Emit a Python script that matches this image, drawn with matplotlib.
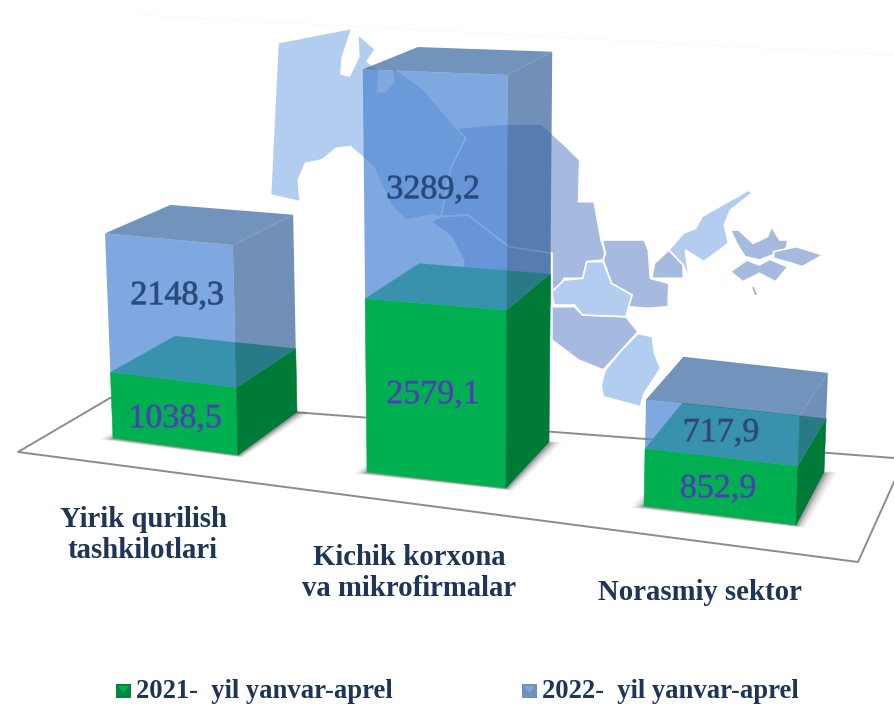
import matplotlib
matplotlib.use("Agg")
import matplotlib.pyplot as plt
import matplotlib.patheffects as pe
from matplotlib.patches import Polygon, Rectangle

plt.rcParams['font.family'] = ['Liberation Serif', 'DejaVu Serif']

# data
categories = ["Yirik qurilish\ntashkilotlari", "Kichik korxona\nva mikrofirmalar", "Norasmiy sektor"]
values_2021 = [1038.5, 2579.1, 852.9]
values_2022 = [2148.3, 3289.2, 717.9]
legend_labels = ["2021-  yil yanvar-aprel", "2022-  yil yanvar-aprel"]

# layout of the fake 3d scene, in image pixels
floors = [
    {"fl": (113, 438), "fr": (238, 455), "br": (297, 412), "bl": (177, 398)},
    {"fl": (367, 472), "fr": (506, 488), "br": (549, 442), "bl": (420, 427)},
    {"fl": (644, 506), "fr": (796, 525), "br": (824, 472), "bl": (681, 457)},
]
bar_scale = [0.0646, 0.0679, 0.0687]
back_shrink = [0.94, 0.945, 0.91]
cat_pos = [(143, 535), (409, 573), (700, 593)]
label_2021_pos = [(175, 419), (433, 395), (718, 489)]
label_2022_pos = [(177, 296), (433, 190), (721, 433)]


# value -> pixel, with a bit of perspective
def project(i, corner, val):
    x0, y0 = floors[i][corner]
    k = {"fl": 0.975, "fr": 1.0, "br": back_shrink[i], "bl": 0.92}[corner]
    s = bar_scale[i] * k / (1 - 6e-6 * val)
    return x0 + val * (x0 - 470) * 7e-6, y0 - val * s


# background map, traced in the coordinates of a zoomed crop (x and y scaled differently)
def map_xy(pts):
    return [(250 + x / 2.435, 20 + y / 3) for x, y in pts]


map_light = [
    [(68, 68), (248, 25), (224, 115), (222, 162), (242, 168), (265, 110), (262, 42), (305, 88), (285, 125),
     (315, 150), (310, 215), (330, 215), (350, 185), (345, 140), (420, 205), (500, 320), (525, 355),
     (490, 440), (465, 590), (445, 585), (380, 600), (345, 560), (300, 440), (245, 380), (210, 385),
     (175, 420), (135, 430), (118, 480), (122, 545), (50, 525)],
    [(735, 815), (765, 780), (810, 775), (820, 725), (860, 725), (880, 790), (930, 825), (915, 890),
     (810, 885), (790, 855), (740, 855)],
    [(945, 940), (980, 950), (985, 1000), (1000, 1045), (960, 1120), (950, 1160), (860, 1130), (855, 1095),
     (865, 1050), (905, 990)],
    [(1020, 690), (1055, 640), (1085, 625), (1100, 590), (1150, 555), (1215, 510), (1222, 520), (1170, 570),
     (1155, 615), (1165, 670), (1105, 725), (1060, 690), (1070, 780), (1055, 735)],
]
map_dark = [
    [(500, 325), (600, 313), (710, 312), (770, 380), (803, 420), (800, 545), (838, 545), (855, 660),
     (865, 700), (860, 720), (820, 725), (810, 775), (765, 775), (750, 810), (735, 810), (735, 700),
     (630, 680), (530, 585), (465, 590), (490, 440), (525, 355)],
    [(465, 590), (530, 585), (630, 680), (735, 700), (735, 860), (520, 830), (520, 720), (490, 650), (440, 605)],
    [(735, 860), (790, 860), (810, 885), (915, 890), (945, 935), (905, 990), (860, 1050), (800, 1020), (735, 960)],
    [(858, 660), (960, 660), (970, 690), (975, 775), (1020, 790), (1018, 860), (970, 865), (920, 860),
     (930, 825), (880, 790), (860, 720), (865, 700)],
    [(985, 730), (1020, 690), (1055, 735), (1055, 775), (978, 775)],
    [(1170, 630), (1190, 630), (1225, 670), (1260, 650), (1270, 620), (1290, 660), (1310, 660), (1305, 690),
     (1240, 720), (1205, 710), (1185, 670)],
    [(1275, 695), (1330, 680), (1395, 705), (1345, 740), (1320, 730), (1275, 715)],
    [(1170, 755), (1210, 720), (1240, 735), (1265, 718), (1310, 740), (1280, 785), (1240, 760), (1200, 785)],
    [(1220, 800), (1228, 798), (1238, 825), (1228, 828)],
]

fig = plt.figure(figsize=(8.94, 7.04), dpi=100)
ax = fig.add_axes([0, 0, 1, 1])
ax.set_xlim(0, 894)
ax.set_ylim(704, 0)
ax.axis("off")

for pts in map_dark:
    ax.add_patch(Polygon(map_xy(pts), closed=True, fc="#a6badf", ec="#ffffff", lw=1.2, zorder=1))
for pts in map_light:
    ax.add_patch(Polygon(map_xy(pts), closed=True, fc="#b3cdf0", ec="#ffffff", lw=1.2, zorder=1))

# floor plane
ax.plot([110, 18, 858, 894], [398, 452, 562, 482], color="#8c8c8c", lw=1.4, zorder=2)
ax.plot([110, 894], [398, 458], color="#8c8c8c", lw=1.4, zorder=2)
ax.plot([140, 894], [15, 55], color="#fbfbfb", lw=1, zorder=2)

alpha_blue = 0.72


def face(i, c1, c2, v_low, v_high, color, alpha=1.0, z=5):
    pts = [project(i, c1, v_low), project(i, c2, v_low), project(i, c2, v_high), project(i, c1, v_high)]
    edge = color if alpha == 1.0 else "none"
    ax.add_patch(Polygon(pts, closed=True, fc=color, ec=edge, lw=0.4, alpha=alpha, joinstyle="round", zorder=z))


for i in range(len(categories)):
    v1 = values_2021[i]
    total = v1 + values_2022[i]
    # soft shadow under the bar, mostly spreading sideways
    f = floors[i]
    cx = (f["fl"][0] + f["br"][0]) / 2
    cy = (f["fl"][1] + f["br"][1]) / 2
    for grow, a in [(1.14, 0.08), (1.1, 0.12), (1.06, 0.18), (1.03, 0.25)]:
        pts = [(cx + (f[c][0] - cx) * grow, cy + (f[c][1] - cy) * (1 + (grow - 1) / 3) + 1)
               for c in ["fl", "fr", "br", "bl"]]
        ax.add_patch(Polygon(pts, closed=True, fc="#404040", ec="none", alpha=a, zorder=3))

    # green part
    face(i, "fl", "fr", 0, v1, "#00b050")
    face(i, "fr", "br", 0, v1, "#007a37")
    top = [project(i, c, v1) for c in ["fl", "fr", "br", "bl"]]
    ax.add_patch(Polygon(top, closed=True, fc="#00b050", ec="none", zorder=5))

    # blue part stacked on it, see-through
    face(i, "fl", "fr", v1, total, "#4f87d4", alpha_blue, 6)
    face(i, "fr", "br", v1, total, "#39659d", alpha_blue, 6)
    top = [project(i, c, total) for c in ["fl", "fr", "br", "bl"]]
    ax.add_patch(Polygon(top, closed=True, fc="#3c6ba2", ec="none", alpha=alpha_blue, zorder=6))

    # labels
    outline = [pe.withStroke(linewidth=0.8, foreground="#4a68b4")]
    ax.text(*label_2021_pos[i], f"{values_2021[i]:.1f}".replace(".", ","), fontsize=24.5, color="#3a4c9a",
            ha="center", va="center", path_effects=outline, zorder=8)
    outline = [pe.withStroke(linewidth=0.8, foreground="#40689f")]
    ax.text(*label_2022_pos[i], f"{values_2022[i]:.1f}".replace(".", ","), fontsize=24.5, color="#2a4878",
            ha="center", va="center", path_effects=outline, zorder=8)
    ax.text(*cat_pos[i], categories[i], fontsize=20.7, fontweight="bold", color="#1f3557",
            ha="center", va="center", linespacing=1.2, zorder=8)

# legend
legend_x = [116, 522]
legend_fill = ["#00b050", "#84a6d2"]
legend_dark = ["#00853c", "#6f91bd"]
for x, lab, c, d in zip(legend_x, legend_labels, legend_fill, legend_dark):
    ax.add_patch(Rectangle((x, 684), 15, 14, fc=d, ec="none", zorder=8))
    ax.add_patch(Polygon([(x + 2, 686), (x + 13, 686), (x + 7.5, 693)], closed=True, fc=c, ec="none", zorder=9))
    ax.text(x + 20, 691, lab, fontsize=19.2, fontweight="bold", color="#1f3557", ha="left", va="center", zorder=8)

fig.savefig("out.png", dpi=100)
